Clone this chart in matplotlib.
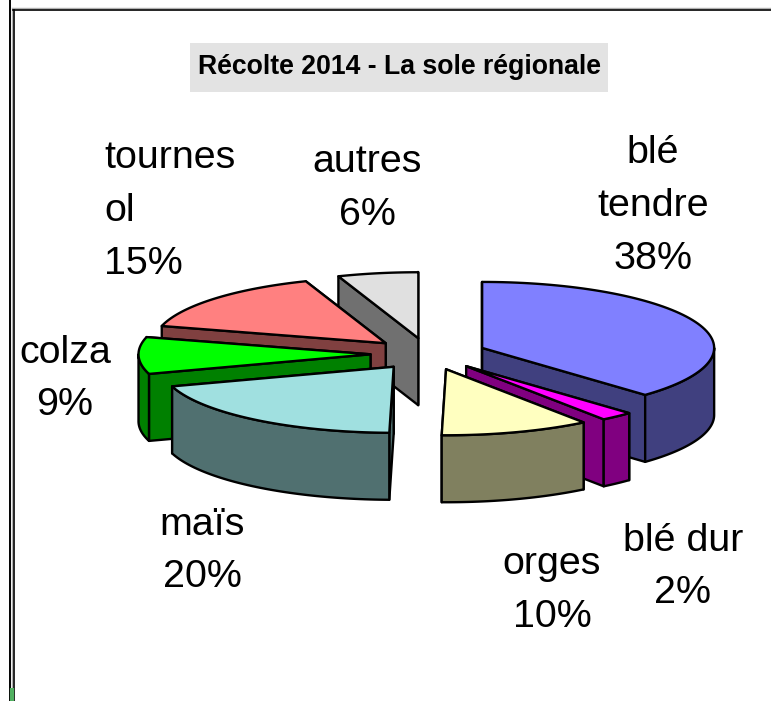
import matplotlib
matplotlib.use("Agg")
import matplotlib.pyplot as plt
import numpy as np

plt.rcParams['font.family'] = ['Liberation Sans', 'DejaVu Sans']

title = "Récolte 2014 - La sole régionale"
labels = ["blé\ntendre", "blé dur", "orges", "maïs", "colza", "tournes\nol", "autres"]
values = [37.6, 2.3, 10.4, 19.9, 9.0, 15.2, 5.6]
top_colors = ["#8080FF", "#FF00FF", "#FFFFC0", "#A0E0E0", "#00FF00", "#FF8080", "#E0E0E0"]
side_colors = ["#40407F", "#800080", "#80805F", "#507070", "#008000", "#804040", "#707070"]
# back slices first, front ones last
draw_order = [6, 5, 4, 3, 0, 1, 2]
# label centres in pixels
label_pos = [(653, 206), (683, 567), (552, 590.5), (202, 551), (65, 379), (104, 211), (367, 188.5)]
label_align = ["center", "center", "center", "center", "center", "left", "center"]

cx, cy = 428.5, 354
rx, ry = 232, 66
depth = 67
explode_x, explode_y = 58, 16

fig = plt.figure(figsize=(7.71, 7.01), dpi=100)
ax = fig.add_axes([0, 0, 1, 1])
ax.set_xlim(0, 771)
ax.set_ylim(701, 0)
ax.axis("off")

# page frame
ax.plot([9.5, 9.5], [0, 701], color="black", lw=1.4)
ax.plot([12, 12], [8, 701], color="#b0b0b0", lw=1)
ax.plot([13.5, 13.5], [9, 701], color="black", lw=1.2)
ax.plot([13, 771], [8, 8], color="#b0b0b0", lw=1)
ax.plot([13, 771], [9.5, 9.5], color="black", lw=1.2)
ax.plot([11.5, 11.5], [688, 701], color="#50b060", lw=3, solid_capstyle="butt")

# title box
ax.fill([190, 608, 608, 190], [43, 43, 92, 92], color="#E3E3E3", lw=0, zorder=0)
ax.text(399.5, 67, title, fontsize=19.2, fontweight="bold", ha="center", va="center", color="black")


def rim(a, ox, oy):
    return ox + rx * np.sin(a), oy - ry * np.cos(a)


edges = np.radians(np.concatenate([[0], np.cumsum(values)]) * 3.6)
z = 2
for i in draw_order:
    a0, a1 = edges[i], edges[i + 1]
    mid = (a0 + a1) / 2
    ox = cx + explode_x * np.sin(mid)
    oy = cy - explode_y * np.cos(mid)
    # the two cut faces, the one further back first
    for a in sorted((a0, a1), key=lambda k: rim(k, ox, oy)[1]):
        x, y = rim(a, ox, oy)
        ax.fill([ox, x, x, ox], [oy, y, y + depth, oy + depth], facecolor=side_colors[i],
                edgecolor="black", lw=1.7, joinstyle="round", zorder=z)
    # outer wall, only the part facing us
    w0, w1 = max(a0, np.pi / 2), min(a1, np.pi * 1.5)
    if w1 > w0:
        t = np.linspace(w0, w1, 60)
        x, y = rim(t, ox, oy)
        ax.fill(np.r_[x, x[::-1]], np.r_[y, y[::-1] + depth], facecolor=side_colors[i],
                edgecolor="black", lw=1.7, joinstyle="round", zorder=z)
    # top
    t = np.linspace(a0, a1, 80)
    x, y = rim(t, ox, oy)
    ax.fill(np.r_[ox, x], np.r_[oy, y], facecolor=top_colors[i], edgecolor="black", lw=1.7,
            joinstyle="round", zorder=z)
    z += 1

for lab, v, pos, al in zip(labels, values, label_pos, label_align):
    ax.text(pos[0], pos[1], f"{lab}\n{v:.0f}%", fontsize=28.4, ha=al, va="center", multialignment=al,
            linespacing=1.59, color="black", zorder=20)

fig.savefig("out.png", dpi=100)
